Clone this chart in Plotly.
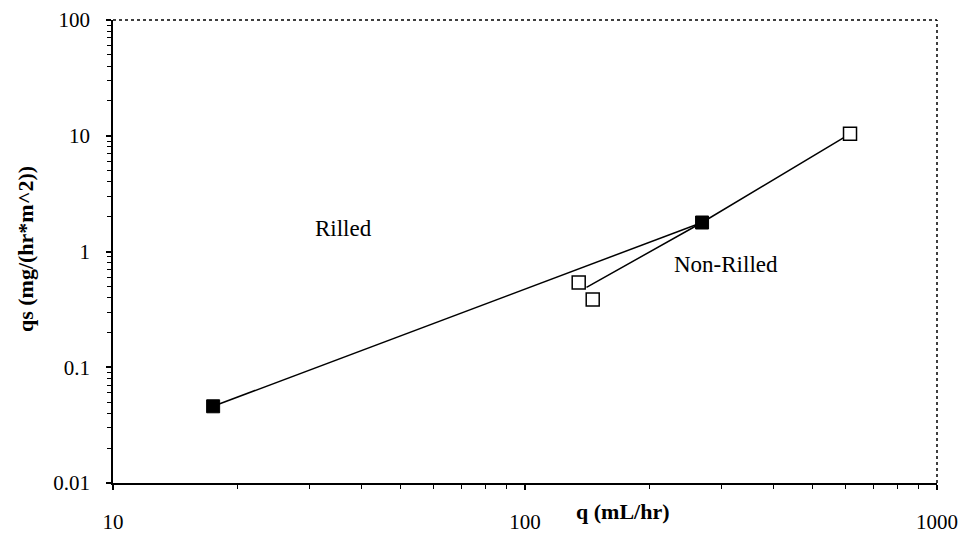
import plotly.graph_objects as go

# Data
rilled_q = [17.5, 269]
rilled_qs = [0.046, 1.78]

nonrilled_q = [135, 146, 615]
nonrilled_qs = [0.54, 0.385, 10.4]

trend_q = [141, 269, 615]
trend_qs = [0.49, 1.78, 10.4]

x_ticks = [10, 100, 1000]
x_ticklabels = ["10", "100", "1000"]
y_ticks = [0.01, 0.1, 1, 10, 100]
y_ticklabels = ["0.01", "0.1", "1", "10", "100"]

x_minor = [m * d for d in [10, 100] for m in range(2, 10)]
y_minor = [m * d for d in [0.01, 0.1, 1, 10] for m in range(2, 10)]

FONT = "Liberation Serif"

fig = go.Figure()

fig.add_trace(go.Scatter(
    x=trend_q, y=trend_qs, mode="lines",
    line=dict(color="black", width=1.5), showlegend=False, hoverinfo="skip"))

fig.add_trace(go.Scatter(
    x=rilled_q, y=rilled_qs, mode="lines+markers",
    line=dict(color="black", width=1.5),
    marker=dict(symbol="square", size=13, color="black",
                line=dict(color="black", width=1)),
    showlegend=False, name="Rilled"))

fig.add_trace(go.Scatter(
    x=nonrilled_q, y=nonrilled_qs, mode="markers",
    marker=dict(symbol="square", size=13, color="white",
                line=dict(color="black", width=1.5)),
    showlegend=False, name="Non-Rilled"))

axis_common = dict(
    type="log", showgrid=False, zeroline=False, automargin=False,
    showline=True, linecolor="black", linewidth=1.5,
    ticks="outside", ticklen=5, tickcolor="black", tickwidth=1.5,
    tickfont=dict(family=FONT, size=21, color="black"),
)
minor_common = dict(ticks="outside", ticklen=4, tickcolor="black", tickwidth=1,
                    showgrid=False)

fig.update_xaxes(range=[1, 3], tickvals=x_ticks, ticktext=x_ticklabels,
                 ticklabelstandoff=14, minor=dict(tickvals=x_minor, **minor_common),
                 **axis_common)
fig.update_yaxes(range=[-2, 2], tickvals=y_ticks, ticktext=y_ticklabels,
                 ticklabelstandoff=12, minor=dict(tickvals=y_minor, **minor_common),
                 **axis_common)

# dotted top and right border
fig.add_shape(type="line", xref="paper", yref="paper", x0=0, x1=1, y0=1, y1=1,
              line=dict(color="black", width=1.5, dash="dot"))
fig.add_shape(type="line", xref="paper", yref="paper", x0=1, x1=1, y0=0, y1=1,
              line=dict(color="black", width=1.5, dash="dot"))

anno_common = dict(xref="paper", yref="paper", showarrow=False,
                   xanchor="center", yanchor="middle")
fig.add_annotation(text="Rilled", x=0.280, y=0.549,
                   font=dict(family=FONT, size=23, color="black"), **anno_common)
fig.add_annotation(text="Non-Rilled", x=0.744, y=0.471,
                   font=dict(family=FONT, size=23, color="black"), **anno_common)
fig.add_annotation(text="<b>q (mL/hr)</b>", x=0.619, y=-0.0605,
                   font=dict(family=FONT, size=22, color="black"), **anno_common)
fig.add_annotation(text="<b>qs (mg/(hr*m^2))</b>", x=-0.107, y=0.505, textangle=-90,
                   font=dict(family=FONT, size=22, color="black"), **anno_common)

fig.update_layout(
    width=953, height=529,
    margin=dict(l=105, r=24, t=12, b=54),
    paper_bgcolor="white", plot_bgcolor="white",
    showlegend=False,
)

fig.write_html("out.html")
